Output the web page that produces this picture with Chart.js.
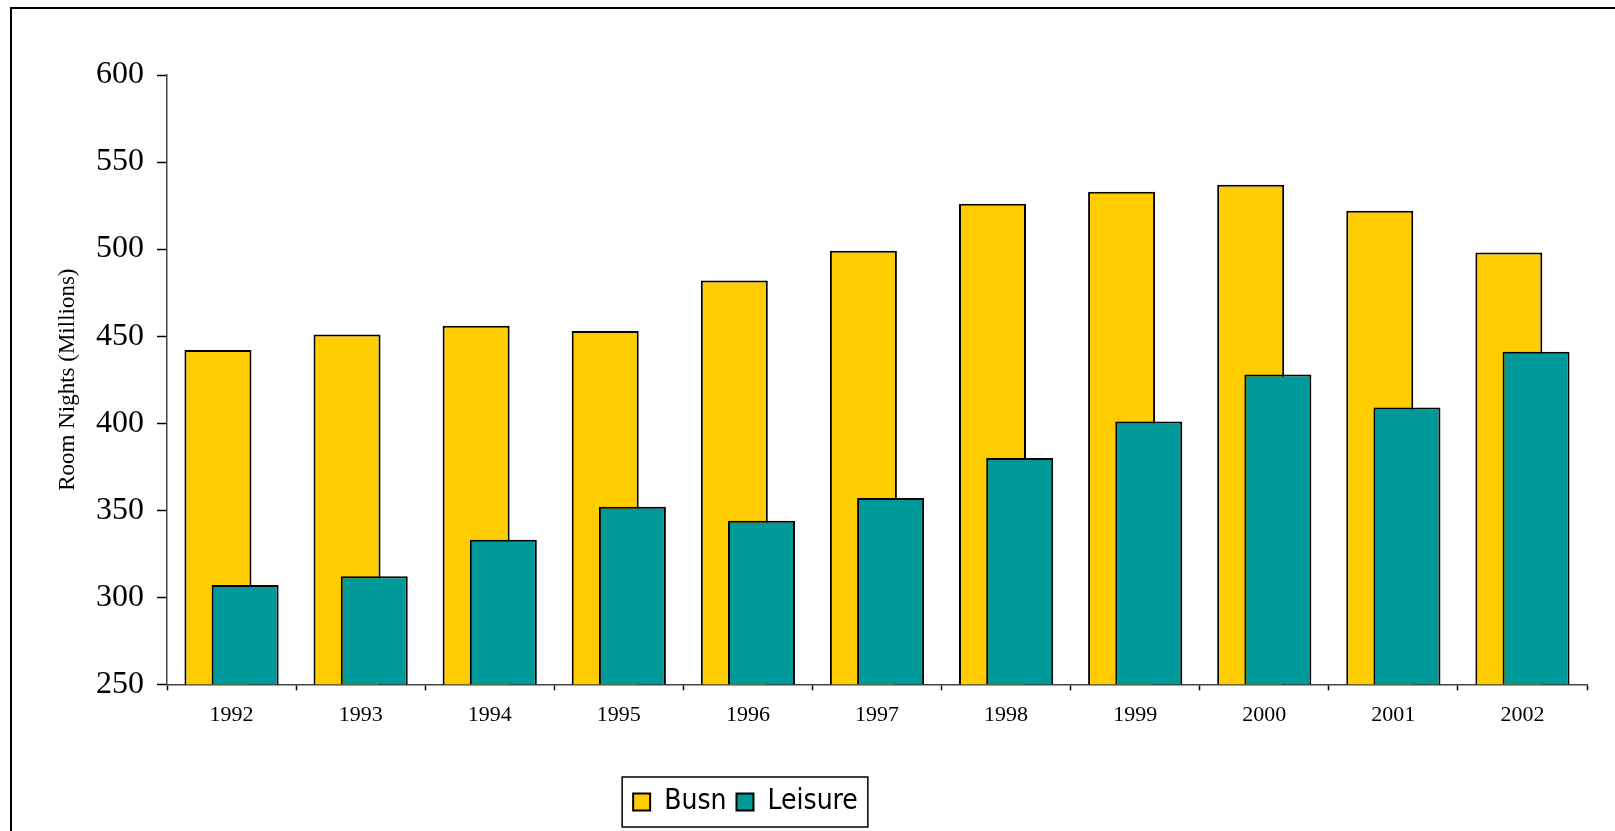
<!DOCTYPE html>
<html>
<head>
<meta charset="utf-8">
<title>Room Nights</title>
<script src="https://cdn.jsdelivr.net/npm/chart.js@4/dist/chart.umd.min.js"></script>
<style>
  html, body { margin: 0; padding: 0; background: #ffffff; overflow: hidden; }
  #c { display: block; }
</style>
</head>
<body>
<canvas id="c" width="1615" height="831"></canvas>
<script>
// Room nights by year, in millions
const years = ['1992', '1993', '1994', '1995', '1996', '1997', '1998', '1999', '2000', '2001', '2002'];
const busn = [442, 451, 456, 453, 482, 499, 526, 533, 537, 522, 498];
const leisure = [307, 312, 333, 352, 344, 357, 380, 401, 428, 409, 441];
const yTicks = [250, 300, 350, 400, 450, 500, 550, 600];

const SERIF = "'Liberation Serif', 'Times New Roman', serif";
const SANS = "'DejaVu Sans Condensed', 'DejaVu Sans', sans-serif";

// Outer frame of the chart sheet
const framePlugin = {
  id: 'frame',
  beforeDraw(chart) {
    const ctx = chart.ctx;
    ctx.save();
    ctx.strokeStyle = '#000000';
    ctx.lineWidth = 2;
    ctx.strokeRect(11, 8, chart.width + 20, chart.height + 20);
    ctx.restore();
  }
};

// Draw the series in index order so the later (right-hand) bars sit on top
const overlapOrder = {
  id: 'overlapOrder',
  beforeDatasetsDraw(chart) {
    const ctx = chart.ctx;
    const a = chart.chartArea;
    ctx.save();
    ctx.beginPath();
    ctx.rect(a.left, a.top, a.right - a.left, a.bottom - a.top);
    ctx.clip();
    chart.data.datasets.forEach((ds, i) => {
      const meta = chart.getDatasetMeta(i);
      if (meta.visible !== false) meta.controller.draw();
    });
    ctx.restore();
    return false;
  }
};

// Move the legend off-centre and draw a box around it
const legendBox = {
  id: 'legendBox',
  afterLayout(chart) {
    const lg = chart.legend;
    const dx = -48;
    lg.left += dx;
    lg.right += dx;
  },
  afterDraw(chart) {
    const lg = chart.legend;
    const hb = lg.legendHitBoxes;
    if (!hb || !hb.length) return;
    const first = hb[0], last = hb[hb.length - 1];
    const cy = first.top + first.height / 2;
    const x0 = first.left - 11;
    const x1 = last.left + last.width + 10;
    const ctx = chart.ctx;
    ctx.save();
    ctx.strokeStyle = '#000000';
    ctx.lineWidth = 1.5;
    ctx.strokeRect(x0, cy - 25, x1 - x0, 50);
    ctx.restore();
  }
};

new Chart(document.getElementById('c'), {
  type: 'bar',
  data: {
    labels: years,
    datasets: [
      {
        label: 'Busn',
        data: busn,
        backgroundColor: '#FFCC00',
        borderColor: '#000000',
        borderWidth: 2,
        categoryPercentage: 0.4214,
        barPercentage: 2.463
      },
      {
        label: 'Leisure',
        data: leisure,
        backgroundColor: '#009999',
        borderColor: '#000000',
        borderWidth: 2,
        categoryPercentage: 0.4214,
        barPercentage: 2.463
      }
    ]
  },
  options: {
    responsive: false,
    animation: false,
    layout: { padding: { left: 0, right: 28, top: 75, bottom: 5 } },
    plugins: {
      tooltip: { enabled: false },
      legend: {
        position: 'bottom',
        labels: {
          boxWidth: 17,
          boxHeight: 17,
          padding: 10,
          color: '#000000',
          font: { family: SANS, size: 28 }
        }
      }
    },
    scales: {
      x: {
        offset: true,
        grid: {
          offset: true,
          drawOnChartArea: false,
          drawTicks: true,
          tickLength: 6,
          tickColor: '#000000',
          tickWidth: 1.5
        },
        border: { display: true, color: '#444444', width: 1.5 },
        ticks: {
          color: '#000000',
          padding: 12,
          maxRotation: 0,
          font: { family: SERIF, size: 22 }
        },
        afterFit(scale) { scale.height = 93.7; }
      },
      y: {
        min: yTicks[0],
        max: yTicks[yTicks.length - 1],
        afterBuildTicks(scale) { scale.ticks = yTicks.map(v => ({ value: v })); },
        grid: {
          drawOnChartArea: false,
          drawTicks: true,
          tickLength: 10,
          tickColor: '#000000',
          tickWidth: 1.5
        },
        border: { display: true, color: '#444444', width: 1.5 },
        ticks: {
          color: '#000000',
          padding: 13,
          font: { family: SERIF, size: 32 }
        },
        title: {
          display: true,
          text: 'Room Nights (Millions)',
          color: '#000000',
          padding: { top: 54, bottom: 0 },
          font: { family: SERIF, size: 23 }
        },
        afterFit(scale) { scale.width = 167; }
      }
    }
  },
  plugins: [framePlugin, overlapOrder, legendBox]
});
</script>
</body>
</html>
